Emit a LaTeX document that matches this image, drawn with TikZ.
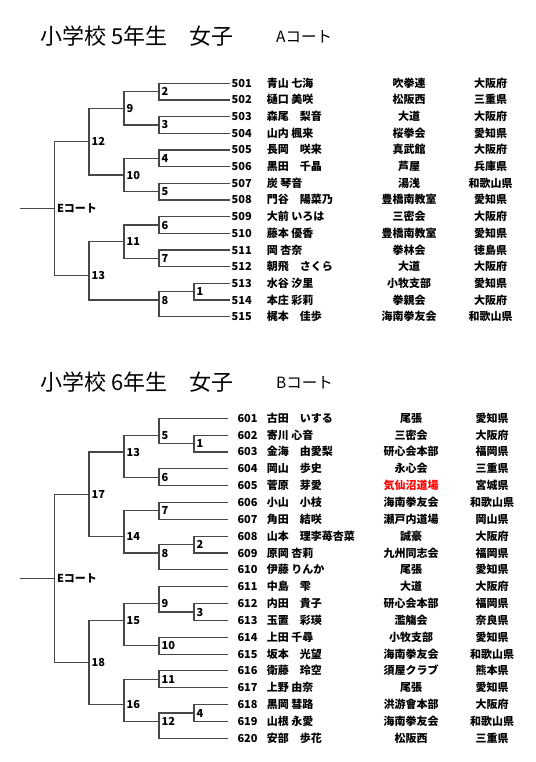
\documentclass[tikz,border=0pt]{standalone}
\usepackage{fontspec}
\setmainfont{Noto Sans CJK JP}
\begin{document}
\begin{tikzpicture}[x=1pt, y=-1pt,
    br/.style={line width=1.1pt, black!72},
    txt/.style={inner ysep=0pt, text height=8pt, text depth=0pt, font=\bfseries\fontsize{11}{11}\selectfont},
    numA/.style={txt, anchor=west, inner xsep=2pt},
    numB/.style={txt, anchor=west, inner xsep=9pt},
    pname/.style={txt, anchor=west, inner xsep=0pt},
    cell/.style={txt, anchor=center, inner xsep=0pt},
    mlab/.style={txt, anchor=west, inner xsep=2.5pt},
    ttl/.style={anchor=west, inner sep=0pt, font=\fontsize{22}{22}\selectfont},
    court/.style={anchor=west, inner sep=0pt, font=\fontsize{15.5}{15.5}\selectfont}]
    \useasboundingbox (0,0) rectangle (535,762);

    % A court
    \node[ttl] (tA) at (40,36) {小学校 5年生　女子};
    \node[court] (cA) at (276,37) {Aコート};

    \foreach \no/\nm/\club/\pref [count=\r from 0] in {
        501/青山 七海/吹拳連/大阪府, 502/樋口 美咲/松阪西/三重県,
        503/森尾　梨音/大道/大阪府, 504/山内 楓来/桜拳会/愛知県,
        505/長岡　咲来/真武館/大阪府, 506/黒田　千晶/芦屋/兵庫県,
        507/炭 琴音/湯浅/和歌山県, 508/門谷　陽菜乃/豊橋南教室/愛知県,
        509/大前 いろは/三密会/大阪府, 510/藤本 優香/豊橋南教室/愛知県,
        511/岡 杏奈/拳林会/徳島県, 512/朝飛　さくら/大道/大阪府,
        513/水谷 汐里/小牧支部/愛知県, 514/本庄 彩莉/拳親会/大阪府,
        515/梶本　佳歩/海南拳友会/和歌山県} {
        \node[numA] (n\no) at (229.5,{83.3+16.67*\r}) {\no};
        \node[pname] (nm\no) at (266.7,{83.3+16.67*\r}) {\nm};
        \node[cell] (cl\no) at (409,{83.3+16.67*\r}) {\club};
        \node[cell] (pf\no) at (490.7,{83.3+16.67*\r}) {\pref};
    }

    \foreach \m/\x/\y in {2/159/91.7, 3/159/125, 4/159/158.3, 5/159/191.7,
        6/159/225, 7/159/258.3, 1/194/291.7, 8/159/300, 9/124/108.3,
        10/124/175, 11/124/241.7, 12/89/141.7, 13/89/275.7} {
        \coordinate (aM\m) at (\x,\y);
        \node[mlab] (aL\m) at (aM\m) {\m};
    }
    \coordinate (aE) at (54.3,208.7);
    \coordinate (aS) at (20,208.7);
    \node[mlab] (aLE) at (aE) {Eコート};

    \foreach \a/\m/\b in {n501/aM2/n502, n503/aM3/n504, n505/aM4/n506,
        n507/aM5/n508, n509/aM6/n510, n511/aM7/n512, n513/aM1/n514,
        aM1/aM8/n515, aM2/aM9/aM3, aM4/aM10/aM5, aM6/aM11/aM7,
        aM9/aM12/aM10, aM11/aM13/aM8, aM12/aE/aM13}
        \draw[br] (\a) -| (\m) |- (\b);
    \draw[br] (aS) -- (aE);

    % B court
    \node[ttl] (tB) at (40,381.7) {小学校 6年生　女子};
    \node[court] (cB) at (276,383) {Bコート};

    \foreach \no/\nm/\club/\pref [count=\r from 0] in {
        601/古田　いする/尾張/愛知県, 602/寄川 心音/三密会/大阪府,
        603/金海　由愛梨/研心会本部/福岡県, 604/岡山　歩史/永心会/三重県,
        605/菅原　芽愛/{\textcolor{red}{気仙沼道場}}/宮城県,
        606/小山　小枝/海南拳友会/和歌山県, 607/角田　結咲/瀬戸内道場/岡山県,
        608/山本　理李苺杏菜/誠豪/大阪府, 609/原岡 杏莉/九州同志会/福岡県,
        610/伊藤 りんか/尾張/愛知県, 611/中島　雫/大道/大阪府,
        612/内田　貴子/研心会本部/福岡県, 613/玉置　彩瑛/濫觴会/奈良県,
        614/上田 千尋/小牧支部/愛知県, 615/坂本　光望/海南拳友会/和歌山県,
        616/衛藤　玲空/須屋クラブ/熊本県, 617/上野 由奈/尾張/愛知県,
        618/黒岡 彗路/洪游會本部/大阪府, 619/山根 永愛/海南拳友会/和歌山県,
        620/安部　歩花/松阪西/三重県} {
        \node[numB] (n\no) at (228.3,{418.3+16.84*\r}) {\no};
        \node[pname] (nm\no) at (266.7,{418.3+16.84*\r}) {\nm};
        \node[cell] (cl\no) at (411,{418.3+16.84*\r}) {\club};
        \node[cell] (pf\no) at (492,{418.3+16.84*\r}) {\pref};
    }

    \foreach \m/\x/\y in {1/194/443.6, 5/159/435.1, 6/159/477.2, 13/124/452,
        7/159/510.9, 2/194/544.6, 8/159/553, 14/124/536.2, 17/89/494.1,
        9/159/603.5, 3/194/612, 10/159/645.7, 15/124/620.4, 11/159/679.3,
        4/194/713, 12/159/721.4, 16/124/704.6, 18/89/662.5} {
        \coordinate (bM\m) at (\x,\y);
        \node[mlab] (bL\m) at (bM\m) {\m};
    }
    \coordinate (bE) at (54.3,578.3);
    \coordinate (bS) at (20,578.3);
    \node[mlab] (bLE) at (bE) {Eコート};

    \foreach \a/\m/\b in {n602/bM1/n603, n601/bM5/bM1, n604/bM6/n605,
        bM5/bM13/bM6, n606/bM7/n607, n608/bM2/n609, bM2/bM8/n610,
        bM7/bM14/bM8, bM13/bM17/bM14, n612/bM3/n613, n611/bM9/bM3,
        n614/bM10/n615, bM9/bM15/bM10, n616/bM11/n617, n618/bM4/n619,
        bM4/bM12/n620, bM11/bM16/bM12, bM15/bM18/bM16, bM17/bE/bM18}
        \draw[br] (\a) -| (\m) |- (\b);
    \draw[br] (bS) -- (bE);
\end{tikzpicture}
\end{document}
